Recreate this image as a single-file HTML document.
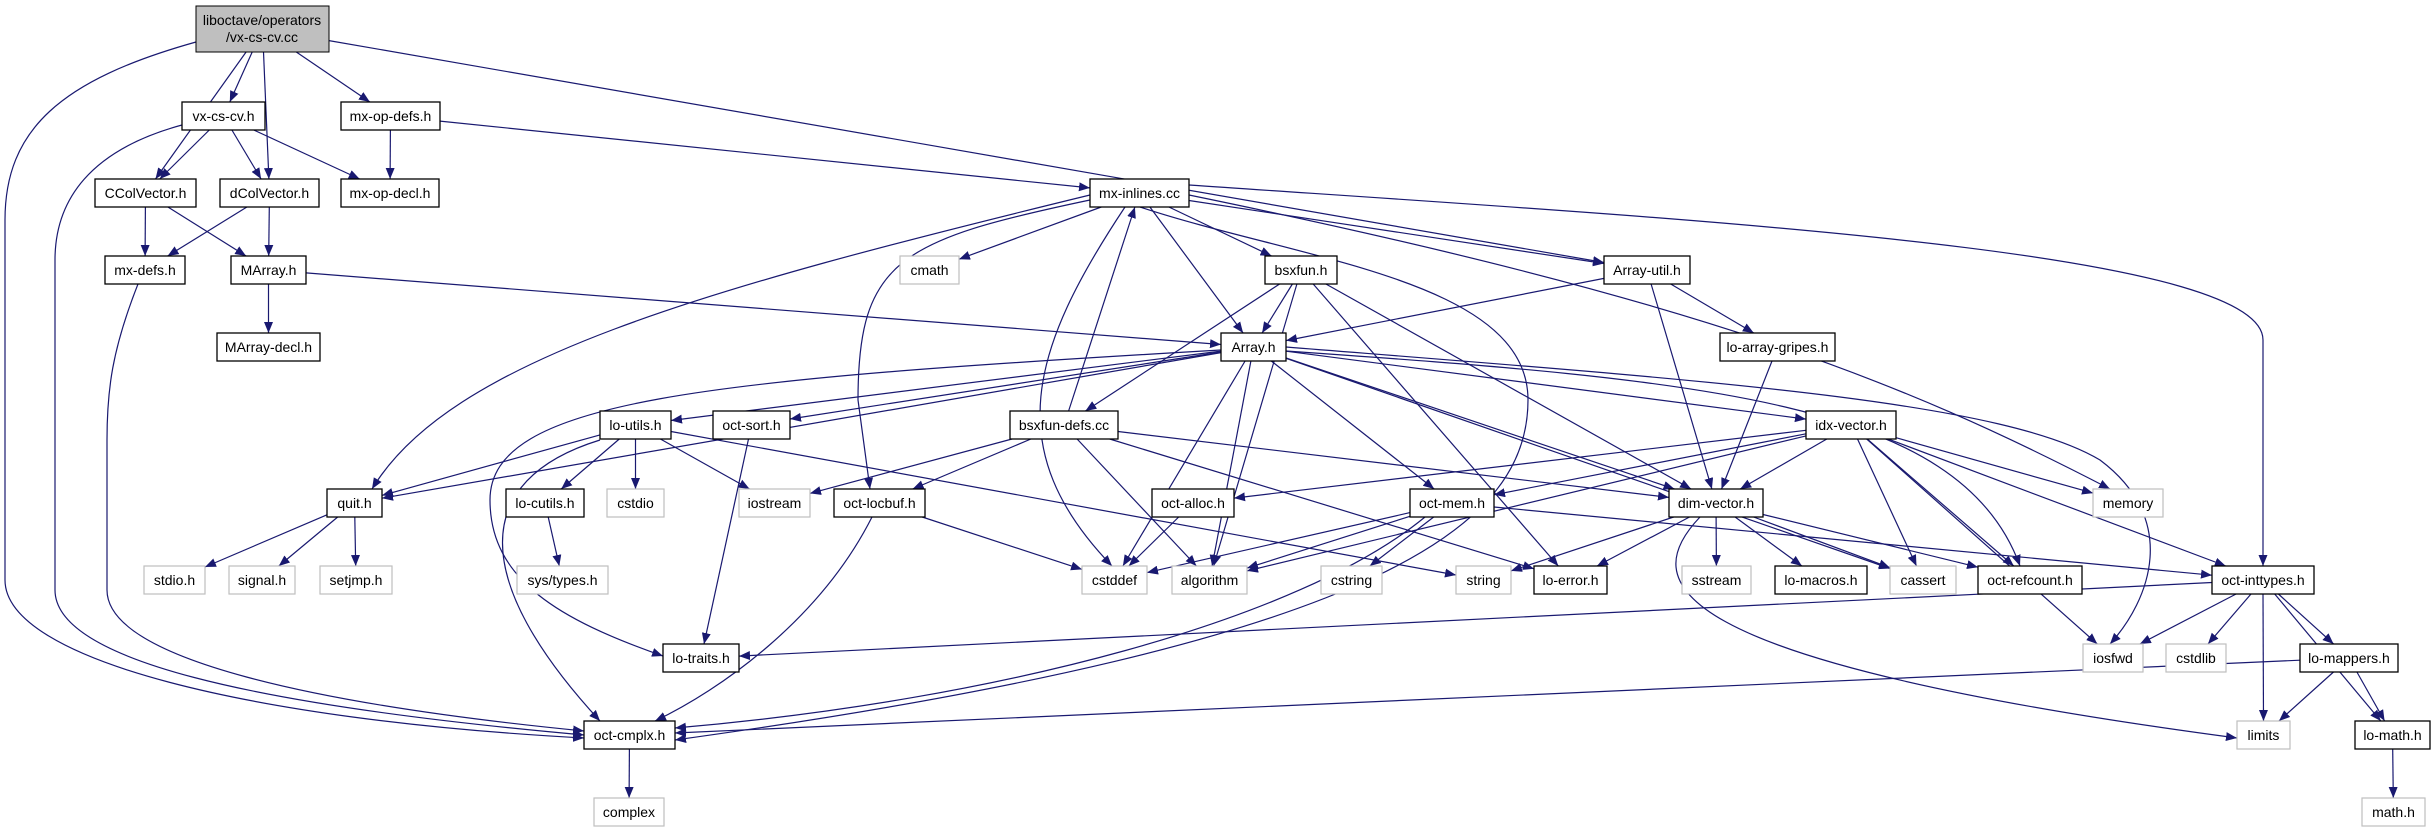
<!DOCTYPE html>
<html><head><meta charset="utf-8"><style>
html,body{margin:0;padding:0;background:#fff;width:2432px;height:832px;overflow:hidden}
svg{display:block}
text{font-family:"Liberation Sans",Arial,sans-serif;font-size:14px;fill:#000}
</style></head><body>
<svg id="g" width="2432" height="832" viewBox="0 0 2432 832" xmlns="http://www.w3.org/2000/svg">
<defs><marker id="a" markerUnits="userSpaceOnUse" markerWidth="12" markerHeight="10" refX="11" refY="4.5" orient="auto"><path d="M0,0 L11,4.5 L0,9 z" fill="#191970"/></marker></defs>
<g id="edges" fill="none" stroke="#191970" stroke-width="1.2"></g>
<g id="nodes">
<rect x="196" y="6" width="133" height="46" fill="#bfbfbf" stroke="#000"/>
<text x="262" y="25" text-anchor="middle">liboctave/operators</text>
<text x="262" y="42" text-anchor="middle">/vx-cs-cv.cc</text>
</g>
</svg>
<div style="display:none">
vx-cs-cv.h mx-op-defs.h CColVector.h dColVector.h mx-op-decl.h mx-inlines.cc mx-defs.h MArray.h cmath bsxfun.h Array-util.h MArray-decl.h Array.h lo-array-gripes.h lo-utils.h oct-sort.h bsxfun-defs.cc idx-vector.h quit.h lo-cutils.h cstdio iostream oct-locbuf.h oct-alloc.h oct-mem.h dim-vector.h memory stdio.h signal.h setjmp.h sys/types.h cstddef algorithm cstring string lo-error.h sstream lo-macros.h cassert oct-refcount.h oct-inttypes.h lo-traits.h iosfwd cstdlib lo-mappers.h oct-cmplx.h limits lo-math.h complex math.h
</div>
<script>
var N={
root:[196,6,329,52],
"vx-cs-cv.h":[182,102,265,130],"mx-op-defs.h":[341,102,440,130],
"CColVector.h":[95,179,196,207],"dColVector.h":[220,179,319,207],"mx-op-decl.h":[341,179,439,207],"mx-inlines.cc":[1090,179,1189,207],
"mx-defs.h":[105,256,185,284],"MArray.h":[231,256,306,284],"cmath":[900,256,959,284,1],"bsxfun.h":[1265,256,1337,284],"Array-util.h":[1604,256,1690,284],
"MArray-decl.h":[217,333,320,361],"Array.h":[1221,333,1286,361],"lo-array-gripes.h":[1720,333,1835,361],
"lo-utils.h":[600,411,671,439],"oct-sort.h":[713,411,790,439],"bsxfun-defs.cc":[1010,411,1118,439],"idx-vector.h":[1806,411,1896,439],
"quit.h":[327,489,382,517],"lo-cutils.h":[506,489,584,517],"cstdio":[607,489,664,517,1],"iostream":[739,489,810,517,1],"oct-locbuf.h":[834,489,925,517],"oct-alloc.h":[1152,489,1234,517],"oct-mem.h":[1410,489,1494,517],"dim-vector.h":[1669,489,1763,517],"memory":[2093,489,2163,517,1],
"stdio.h":[144,566,205,594,1],"signal.h":[229,566,295,594,1],"setjmp.h":[320,566,392,594,1],"sys/types.h":[517,566,608,594,1],"cstddef":[1082,566,1147,594,1],"algorithm":[1172,566,1247,594,1],"cstring":[1321,566,1382,594,1],"string":[1456,566,1511,594,1],"lo-error.h":[1534,566,1607,594],"sstream":[1682,566,1751,594,1],"lo-macros.h":[1775,566,1867,594],"cassert":[1890,566,1956,594,1],"oct-refcount.h":[1978,566,2082,594],"oct-inttypes.h":[2212,566,2314,594],
"lo-traits.h":[663,644,739,672],"iosfwd":[2083,644,2143,672,1],"cstdlib":[2166,644,2226,672,1],"lo-mappers.h":[2300,644,2398,672],
"oct-cmplx.h":[584,721,675,749],"limits":[2237,721,2290,749,1],"lo-math.h":[2355,721,2430,749],
"complex":[594,798,664,826,1],"math.h":[2362,798,2425,826,1]
};
var S="http://www.w3.org/2000/svg",ng=document.getElementById("nodes"),eg=document.getElementById("edges");
for(var k in N){if(k=="root")continue;var b=N[k];
var r=document.createElementNS(S,"rect");r.setAttribute("x",b[0]);r.setAttribute("y",b[1]);r.setAttribute("width",b[2]-b[0]);r.setAttribute("height",b[3]-b[1]);r.setAttribute("fill","#fff");r.setAttribute("stroke",b[4]?"#bfbfbf":"#000");r.setAttribute("stroke-width",b[4]?"1.2":"1.3");ng.appendChild(r);
var t=document.createElementNS(S,"text");t.setAttribute("x",(b[0]+b[2])/2);t.setAttribute("y",(b[1]+b[3])/2+5);t.setAttribute("text-anchor","middle");t.textContent=k;ng.appendChild(t);}
function c(b){return[(b[0]+b[2])/2,(b[1]+b[3])/2]}
function clip(b,p,q){var cx=p[0],cy=p[1],dx=q[0]-cx,dy=q[1]-cy,hw=(b[2]-b[0])/2,hh=(b[3]-b[1])/2;var s=Math.min(dx?hw/Math.abs(dx):1e9,dy?hh/Math.abs(dy):1e9);return[cx+dx*s,cy+dy*s]}
function P(d){var p=document.createElementNS(S,"path");p.setAttribute("d",d);p.setAttribute("marker-end","url(#a)");eg.appendChild(p)}
function E(a,b){var A=N[a],B=N[b],ca=c(A),cb=c(B);var p=clip(A,ca,cb),q=clip(B,cb,ca);P("M"+p[0].toFixed(1)+","+p[1].toFixed(1)+" L"+q[0].toFixed(1)+","+q[1].toFixed(1))}
var L=[["root","vx-cs-cv.h"],["root","mx-op-defs.h"],["root","CColVector.h"],["root","dColVector.h"],["root","Array-util.h"],
["vx-cs-cv.h","CColVector.h"],["vx-cs-cv.h","dColVector.h"],["vx-cs-cv.h","mx-op-decl.h"],
["mx-op-defs.h","mx-op-decl.h"],["mx-op-defs.h","mx-inlines.cc"],
["CColVector.h","mx-defs.h"],["CColVector.h","MArray.h"],["dColVector.h","mx-defs.h"],["dColVector.h","MArray.h"],
["MArray.h","MArray-decl.h"],["MArray.h","Array.h"],
["mx-inlines.cc","cmath"],["mx-inlines.cc","bsxfun.h"],["mx-inlines.cc","Array.h"],["mx-inlines.cc","Array-util.h"],
["bsxfun.h","Array.h"],["bsxfun.h","bsxfun-defs.cc"],["bsxfun.h","algorithm"],["bsxfun.h","dim-vector.h"],["bsxfun.h","lo-error.h"],
["Array-util.h","Array.h"],["Array-util.h","dim-vector.h"],["Array-util.h","lo-array-gripes.h"],
["lo-array-gripes.h","dim-vector.h"],
["bsxfun-defs.cc","mx-inlines.cc"],["bsxfun-defs.cc","iostream"],["bsxfun-defs.cc","oct-locbuf.h"],["bsxfun-defs.cc","algorithm"],["bsxfun-defs.cc","dim-vector.h"],["bsxfun-defs.cc","lo-error.h"],
["Array.h","quit.h"],["Array.h","lo-utils.h"],["Array.h","oct-sort.h"],["Array.h","cstddef"],["Array.h","algorithm"],["Array.h","oct-mem.h"],["Array.h","dim-vector.h"],["Array.h","idx-vector.h"],["Array.h","cassert"],
["lo-utils.h","quit.h"],["lo-utils.h","lo-cutils.h"],["lo-utils.h","cstdio"],["lo-utils.h","iostream"],["lo-utils.h","string"],
["oct-sort.h","lo-traits.h"],["quit.h","stdio.h"],["quit.h","signal.h"],["quit.h","setjmp.h"],["lo-cutils.h","sys/types.h"],
["oct-locbuf.h","cstddef"],["oct-alloc.h","cstddef"],
["idx-vector.h","oct-alloc.h"],["idx-vector.h","algorithm"],["idx-vector.h","oct-mem.h"],["idx-vector.h","dim-vector.h"],["idx-vector.h","memory"],["idx-vector.h","cassert"],["idx-vector.h","oct-refcount.h"],["idx-vector.h","iosfwd"],["idx-vector.h","oct-inttypes.h"],
["oct-mem.h","cstddef"],["oct-mem.h","algorithm"],["oct-mem.h","cstring"],["oct-mem.h","oct-inttypes.h"],
["dim-vector.h","string"],["dim-vector.h","lo-error.h"],["dim-vector.h","sstream"],["dim-vector.h","lo-macros.h"],["dim-vector.h","cassert"],["dim-vector.h","oct-refcount.h"],
["oct-inttypes.h","lo-traits.h"],["oct-inttypes.h","iosfwd"],["oct-inttypes.h","cstdlib"],["oct-inttypes.h","limits"],["oct-inttypes.h","lo-mappers.h"],["oct-inttypes.h","lo-math.h"],
["lo-mappers.h","oct-cmplx.h"],["lo-mappers.h","limits"],["lo-mappers.h","lo-math.h"],["lo-math.h","math.h"],["oct-cmplx.h","complex"]];
L.forEach(function(e){E(e[0],e[1])});
["M196,42 C60,80 5,130 5,220 L5,580 C5,660 250,720 584,738",
"M182,125 C90,150 55,200 55,260 L55,590 C55,660 250,705 584,735",
"M138,284 C112,350 107,390 107,440 L107,590 C107,660 320,705 584,731",
"M1090,200 C900,240 858,260 858,400 L870,489",
"M1090,195 C700,290 450,360 372,489",
"M1221,350 C700,380 490,400 490,500 C490,580 560,620 663,656",
"M600,440 C470,480 470,580 600,721",
"M1140,207 C1300,260 1528,280 1528,400 C1528,520 1400,640 675,740",
"M1425,517 C1300,620 1000,700 675,728",
"M872,517 C820,620 720,690 655,721",
"M1700,517 C1640,580 1650,660 2237,738",
"M1125,207 C1030,350 1000,450 1112,566",
"M1286,347 C1700,380 2000,400 2100,460 C2180,520 2150,600 2110,644",
"M1286,351 C1700,380 1960,400 2020,566",
"M1189,185 C1700,220 2263,250 2263,340 L2263,566",
"M1189,195 C1700,300 1900,380 2110,489"].forEach(P);
</script>
</body></html>
